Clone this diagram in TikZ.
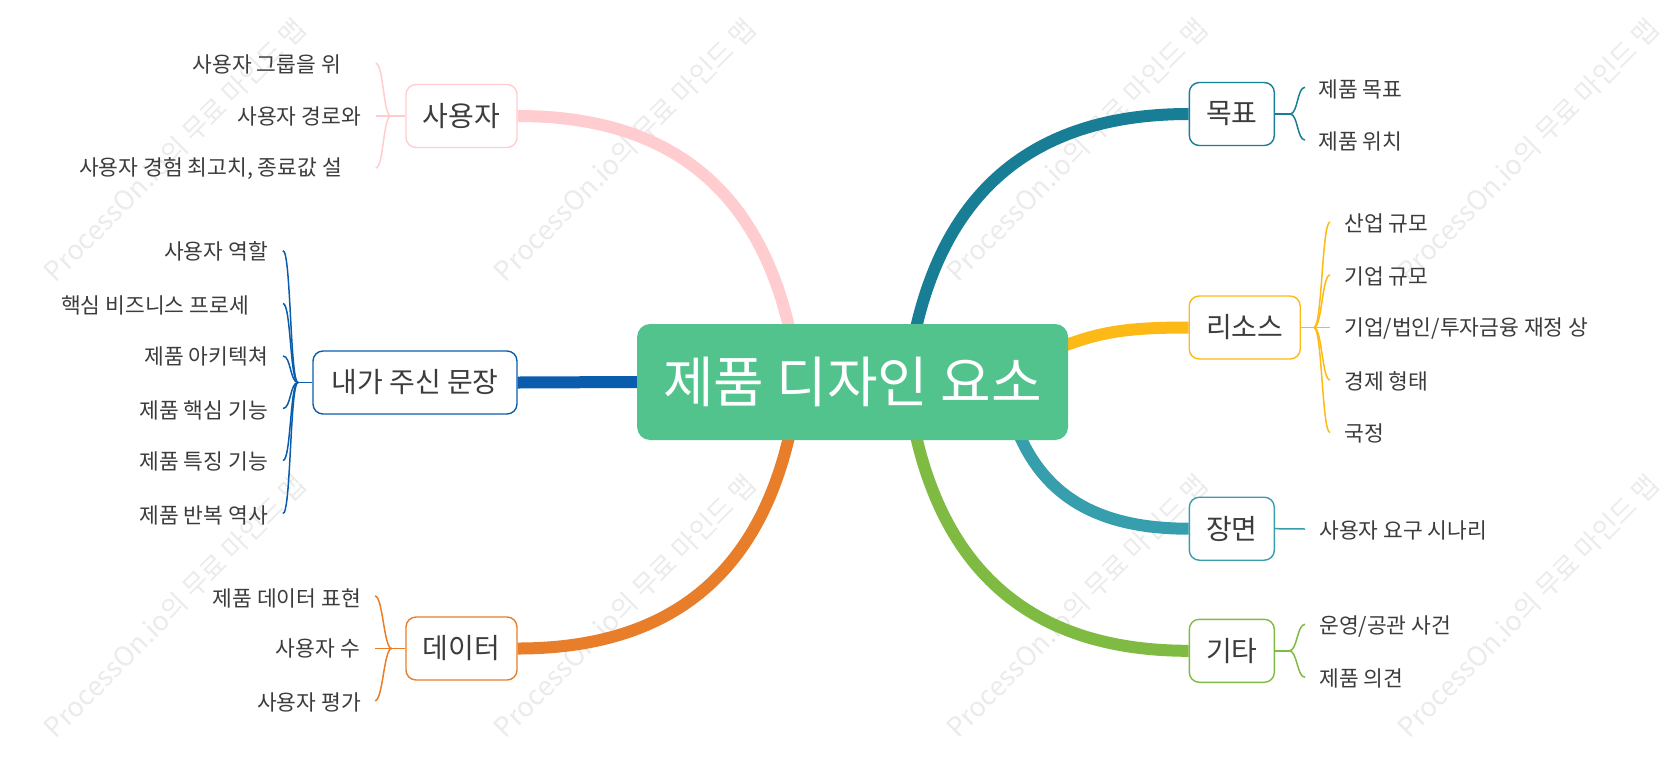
\documentclass[tikz,border=0pt]{standalone}
\usepackage{fontspec}
\setmainfont{Noto Sans CJK KR}
\usetikzlibrary{calc}
\definecolor{cgreen}{HTML}{52C38D}
\definecolor{cpink}{HTML}{FFCDD0}
\definecolor{cblue}{HTML}{0A5DAD}
\definecolor{corange}{HTML}{E87D2A}
\definecolor{cteal}{HTML}{187E96}
\definecolor{cyellow}{HTML}{FDB916}
\definecolor{cteal2}{HTML}{369EAC}
\definecolor{cgreen2}{HTML}{7FBB42}
\definecolor{txt}{HTML}{3C3C3C}
\definecolor{wmc}{HTML}{EBEBEB}
\pgfdeclarelayer{wmark}
\pgfdeclarelayer{links}
\pgfsetlayers{wmark,links,main}
\begin{document}
\begin{tikzpicture}[x=1pt,y=-1pt,
  box/.style={draw, line width=1.4pt, rounded corners=10pt, fill=white, minimum height=63pt, inner sep=0pt, font=\fontsize{28}{32}\selectfont, text=txt},
  leaf/.style={inner sep=0pt, font=\fontsize{21.5}{25}\selectfont, text=txt},
  trunk/.style={line width=12pt},
  twig/.style={line width=1.5pt},
  wm/.style={rotate=45, text=wmc, inner sep=0pt, font=\fontsize{27}{32}\selectfont}
]
\useasboundingbox (0,0) rectangle (1669,780);

% watermarks
\begin{pgfonlayer}{wmark}
\foreach \x in {175,625,1077,1528}
  \foreach \y in {150,606}
    \node[wm] (wm-\x-\y) at (\x,\y) {ProcessOn.io의 무료 마인드 맵};
\end{pgfonlayer}

% root
\node[fill=cgreen, rounded corners=13pt, minimum width=431pt, minimum height=116pt, inner sep=0pt, text=white, font=\fontsize{55}{64}\selectfont] (root) at (852.6,382) {제품 디자인 요소};

% level 1
\node[box, draw=cpink, minimum width=111pt] (user) at (461.5,116) {사용자};
\node[box, draw=cblue, minimum width=204pt] (sent) at (415,382.5) {내가 주신 문장};
\node[box, draw=corange, minimum width=111pt] (data) at (461.5,648.5) {데이터};
\node[box, draw=cteal, minimum width=85pt] (goal) at (1231.8,114) {목표};
\node[box, draw=cyellow, minimum width=111pt] (res) at (1244.7,327.5) {리소스};
\node[box, draw=cteal2, minimum width=85pt] (scene) at (1231.8,528.7) {장면};
\node[box, draw=cgreen2, minimum width=85pt] (etc) at (1231.8,650.8) {기타};

% leaves
\node[leaf, anchor=east] (u1) at (341,64) {사용자 그룹을 위};
\node[leaf, anchor=east] (u2) at (361,116) {사용자 경로와};
\node[leaf, anchor=east] (u3) at (342,169) {사용자 경험 최고치, 종료값 설};

\node[leaf, anchor=east] (s1) at (268,251.5) {사용자 역할};
\node[leaf, anchor=east] (s2) at (249,305) {핵심 비즈니스 프로세};
\node[leaf, anchor=east] (s3) at (268,356.7) {제품 아키텍쳐};
\node[leaf, anchor=east] (s4) at (268,410) {제품 핵심 기능};
\node[leaf, anchor=east] (s5) at (268,461.7) {제품 특징 기능};
\node[leaf, anchor=east] (s6) at (268,515) {제품 반복 역사};

\node[leaf, anchor=east] (d1) at (361,598) {제품 데이터 표현};
\node[leaf, anchor=east] (d2) at (360,648.5) {사용자 수};
\node[leaf, anchor=east] (d3) at (361,702) {사용자 평가};

\node[leaf, anchor=west] (g1) at (1318,89) {제품 목표};
\node[leaf, anchor=west] (g2) at (1318,141.5) {제품 위치};

\node[leaf, anchor=west] (r1) at (1344,223.3) {산업 규모};
\node[leaf, anchor=west] (r2) at (1344,276) {기업 규모};
\node[leaf, anchor=west] (r3) at (1344,328.3) {기업/법인/투자금융 재정 상};
\node[leaf, anchor=west] (r4) at (1344,381) {경제 형태};
\node[leaf, anchor=west] (r5) at (1344,433.3) {국정};

\node[leaf, anchor=west] (c1) at (1319,530) {사용자 요구 시나리};

\node[leaf, anchor=west] (e1) at (1319,626.7) {운영/공관 사건};
\node[leaf, anchor=west] (e2) at (1319,678.3) {제품 의견};

% branch end points
\coordinate (uj) at (391,116);
\coordinate (u1e) at (375.7,63.3);
\coordinate (u2e) at (375.7,116);
\coordinate (u3e) at (375.7,168);

\coordinate (sj) at (298,382.5);
\coordinate (s1e) at (283,250.7);
\coordinate (s2e) at (283,303.5);
\coordinate (s3e) at (283,356);
\coordinate (s4e) at (283,408.5);
\coordinate (s5e) at (283,460.5);
\coordinate (s6e) at (283,513.5);

\coordinate (dj) at (391.7,648.5);
\coordinate (d1e) at (375,596);
\coordinate (d2e) at (375,648.5);
\coordinate (d3e) at (375,700.7);

\coordinate (gj) at (1290,114);
\coordinate (g1e) at (1305,87.3);
\coordinate (g2e) at (1305,140);

\coordinate (rj) at (1314,327.5);
\coordinate (r1e) at (1330,222);
\coordinate (r2e) at (1330,275);
\coordinate (r3e) at (1330,327.5);
\coordinate (r4e) at (1330,380);
\coordinate (r5e) at (1330,432.5);

\coordinate (c1e) at (1305,529);

\coordinate (ej) at (1289.3,650.8);
\coordinate (e1e) at (1305,624.3);
\coordinate (e2e) at (1305,677.3);

\begin{pgfonlayer}{links}
% trunks
\draw[trunk,cpink] (user.east) .. controls (680,116) and (760,200) .. ($(root.north)+(-63,6)$);
\draw[trunk,cblue] (sent.east) -- (root.west);
\draw[trunk,corange] (data.east) .. controls (680,648.5) and (760,564) .. ($(root.south)+(-63,-6)$);
\draw[trunk,cteal] ($(root.north)+(63,6)$) .. controls (945,200) and (1025,114) .. (goal.west);
\draw[trunk,cyellow] ($(root.east)+(-20,-30)$) .. controls (1095,333) and (1120,327.5) .. (res.west);
\draw[trunk,cteal2] ($(root.south east)+(-53,-15)$) .. controls (1040,490) and (1090,528.7) .. (scene.west);
\draw[trunk,cgreen2] ($(root.south)+(63,-6)$) .. controls (945,564) and (1025,650.8) .. (etc.west);

% twigs, left side
\draw[twig,cpink] (user.west) -- (u2e);
\foreach \e in {u1e,u3e}
  \draw[twig,cpink] (uj) .. controls ($(uj)+(-8,0)$) and ($(\e)+(8,0)$) .. (\e);
\draw[twig,cblue] (sent.west) -- (sj);
\foreach \e in {s1e,s2e,s3e,s4e,s5e,s6e}
  \draw[twig,cblue] (sj) .. controls ($(sj)+(-8,0)$) and ($(\e)+(8,0)$) .. (\e);
\draw[twig,corange] (data.west) -- (d2e);
\foreach \e in {d1e,d3e}
  \draw[twig,corange] (dj) .. controls ($(dj)+(-8,0)$) and ($(\e)+(8,0)$) .. (\e);

% twigs, right side
\draw[twig,cteal] (goal.east) -- (gj);
\foreach \e in {g1e,g2e}
  \draw[twig,cteal] (gj) .. controls ($(gj)+(8,0)$) and ($(\e)+(-8,0)$) .. (\e);
\draw[twig,cyellow] (res.east) -- (r3e);
\foreach \e in {r1e,r2e,r4e,r5e}
  \draw[twig,cyellow] (rj) .. controls ($(rj)+(8,0)$) and ($(\e)+(-8,0)$) .. (\e);
\draw[twig,cteal2] (scene.east) -- (c1e);
\draw[twig,cgreen2] (etc.east) -- (ej);
\foreach \e in {e1e,e2e}
  \draw[twig,cgreen2] (ej) .. controls ($(ej)+(8,0)$) and ($(\e)+(-8,0)$) .. (\e);
\end{pgfonlayer}
\end{tikzpicture}
\end{document}
